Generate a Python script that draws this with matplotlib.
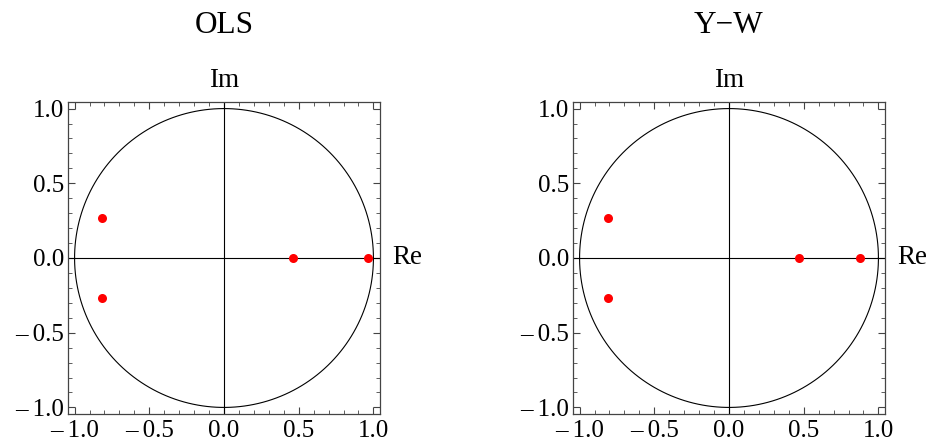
import numpy as np
import matplotlib
matplotlib.use("Agg")
import matplotlib.pyplot as plt
from matplotlib.ticker import MultipleLocator, FuncFormatter

plt.rcParams['font.family'] = ['Liberation Serif', 'DejaVu Serif']

titles = ["OLS", "Y\u2212W"]
ols_re = [-0.815, -0.815, 0.46, 0.966]
ols_im = [0.265, -0.265, 0.0, 0.0]
yw_re = [-0.812, -0.812, 0.468, 0.876]
yw_im = [0.265, -0.265, 0.0, 0.0]
roots = [(ols_re, ols_im), (yw_re, yw_im)]

# Mathematica-like wide minus with a little gap
fmt = FuncFormatter(lambda v, pos: ('%.1f' % v).replace('-', '\u2013\u2009'))

fig = plt.figure(figsize=(9.28, 4.45), dpi=100)
lefts = [68 / 928, 573 / 928]
theta = np.linspace(0, 2 * np.pi, 400)

for left, title, (re, im) in zip(lefts, titles, roots):
    ax = fig.add_axes([left, 31 / 445, 312 / 928, 312 / 445])
    ax.plot(np.cos(theta), np.sin(theta), color='black', lw=0.8, zorder=2)
    ax.axhline(0, color='black', lw=0.8, zorder=2)
    ax.axvline(0, color='black', lw=0.8, zorder=2)
    ax.plot(re, im, 'o', color='#ff0000', markersize=6.5, markeredgewidth=0, zorder=3)

    ax.set_xlim(-1.044, 1.044)
    ax.set_ylim(-1.044, 1.044)
    ax.xaxis.set_major_locator(MultipleLocator(0.5))
    ax.yaxis.set_major_locator(MultipleLocator(0.5))
    ax.xaxis.set_minor_locator(MultipleLocator(0.1))
    ax.yaxis.set_minor_locator(MultipleLocator(0.1))
    ax.xaxis.set_major_formatter(fmt)
    ax.yaxis.set_major_formatter(fmt)
    ax.tick_params(which='both', direction='in', top=True, right=True,
                   labelsize=18, color='#444444')
    ax.tick_params(which='major', length=5, width=0.8)
    ax.tick_params(axis='y', which='major', pad=3)
    ax.tick_params(axis='x', which='major', pad=4)
    ax.tick_params(which='minor', length=3, width=0.6)
    for spine in ax.spines.values():
        spine.set_linewidth(0.9)
        spine.set_color('#444444')

    ax.text(0, 1.144, "Im", ha='center', va='baseline', fontsize=19.5)
    ax.text(1.127, 0, "Re", ha='left', va='center', fontsize=19.5)
    ax.text(0, 1.505, title, ha='center', va='baseline', fontsize=22.5)

fig.savefig("out.png", dpi=100)
